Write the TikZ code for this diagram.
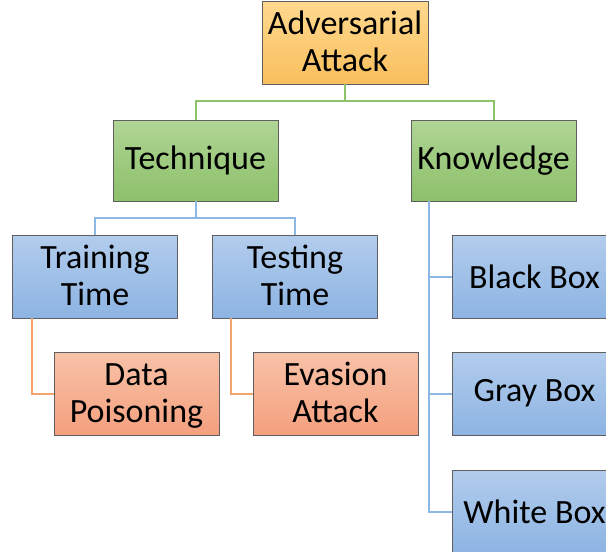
\documentclass[tikz,border=0pt]{standalone}
\usepackage{fontspec}
\setmainfont{Carlito}
\definecolor{goldT}{HTML}{FFD98F}
\definecolor{goldB}{HTML}{F9BE5C}
\definecolor{greenT}{HTML}{B0D595}
\definecolor{greenB}{HTML}{8CC06A}
\definecolor{blueT}{HTML}{B2CCEC}
\definecolor{blueB}{HTML}{8DB4E3}
\definecolor{salT}{HTML}{F8C2A8}
\definecolor{salB}{HTML}{F4A07E}
\definecolor{greenL}{HTML}{8CC46A}
\definecolor{blueL}{HTML}{8DB8E6}
\definecolor{orangeL}{HTML}{F2A46A}
\definecolor{edge}{HTML}{5F5F5F}
\newcommand{\lastln}{\rule[-5pt]{0pt}{25pt}}
\begin{document}
\begin{tikzpicture}[x=1pt,y=-1pt,
  box/.style={draw=edge,line width=0.8pt,minimum width=165pt,minimum height=83pt,
    align=center,inner sep=0pt,font=\fontsize{34}{37}\selectfont},
  goldbox/.style={box,top color=goldT,bottom color=goldB},
  greenbox/.style={box,top color=greenT,bottom color=greenB,minimum height=81pt},
  bluebox/.style={box,top color=blueT,bottom color=blueB},
  salbox/.style={box,top color=salT,bottom color=salB},
  gline/.style={draw=greenL,line width=2pt},
  bline/.style={draw=blueL,line width=2pt},
  oline/.style={draw=orangeL,line width=2pt}]
\useasboundingbox (0,0) rectangle (606,552);
\clip (0,0) rectangle (606,552);
\node[goldbox,minimum width=166pt] (adv) at (345,42.5) {Adversarial\strut\\Attack\lastln};
\node[greenbox] (tech) at (195.5,160.5) {Technique};
\node[greenbox] (know) at (493.5,160.5) {Knowledge};
\node[bluebox] (train) at (95,276.5) {Training\strut\\Time\lastln};
\node[bluebox] (test) at (295,276.5) {Testing\strut\\Time\lastln};
\node[salbox] (data) at (136.5,393.5) {Data\strut\\Poisoning\lastln};
\node[salbox] (evas) at (335.5,393.5) {Evasion\strut\\Attack\lastln};
\node[bluebox] (black) at (534.5,276.5) {Black Box};
\node[bluebox] (gray) at (534.5,393.5) {Gray Box};
\node[bluebox] (white) at (534.5,511.5) {White Box};
\draw[gline] (adv.south) -- ++(0,17) -| (tech.north);
\draw[gline] (adv.south) -- ++(0,17) -| (know.north);
\draw[bline] (tech.south) -- ++(0,17) -| (train.north);
\draw[bline] (tech.south) -- ++(0,17) -| (test.north);
\draw[oline] ([xshift=20pt]train.south west) |- (data.west);
\draw[oline] ([xshift=19pt]test.south west) |- (evas.west);
\draw[bline] ([xshift=18pt]know.south west) |- (black.west);
\draw[bline] ([xshift=18pt]know.south west) |- (gray.west);
\draw[bline] ([xshift=18pt]know.south west) |- (white.west);
\end{tikzpicture}
\end{document}
